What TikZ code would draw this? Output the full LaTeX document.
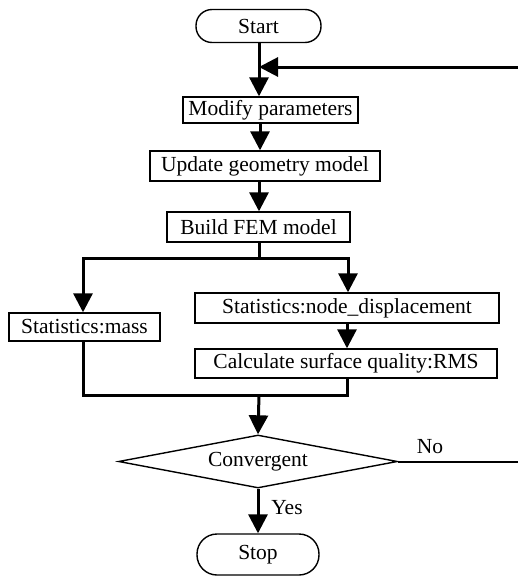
\documentclass[tikz,border=0pt]{standalone}
\usepackage{fontspec}
\setmainfont{Liberation Serif}
\usetikzlibrary{arrows.meta,shapes.geometric}
\begin{document}
\begin{tikzpicture}[x=1pt,y=-1pt,
  box/.style={draw,line width=1.4pt,inner sep=0pt,font=\fontsize{21.5}{23}\selectfont},
  term/.style={box,rounded corners=16pt},
  flow/.style={line width=3pt},
  arr/.style={flow,-{Triangle[length=19pt,width=19pt]}},
  lbl/.style={font=\fontsize{21.5}{23}\selectfont,inner sep=0pt}]
\useasboundingbox (0,0) rectangle (518,576);
\node[term,minimum width=125pt,minimum height=33pt] (start) at (258.5,26) {Start};
\node[box,minimum width=175pt,minimum height=26pt] (modify) at (270.5,110) {Modify parameters};
\node[box,minimum width=230pt,minimum height=30pt] (update) at (265,166) {Update geometry model};
\node[box,minimum width=183pt,minimum height=30pt] (fem) at (258.5,227) {Build FEM model};
\node[box,minimum width=151pt,minimum height=28pt] (mass) at (84.5,327) {Statistics:mass};
\node[box,minimum width=304pt,minimum height=30pt] (disp) at (347,308) {Statistics:node\_displacement};
\node[box,minimum width=302pt,minimum height=29pt] (calc) at (346,363.5) {Calculate surface quality:RMS};
\node[box,diamond,aspect=5.26,minimum width=279pt,minimum height=53pt] (conv) at (258,461.5) {Convergent};
\node[term,rounded corners=20pt,minimum width=122pt,minimum height=41pt] (stop) at (258,554.5) {Stop};
\coordinate (fbR) at (518,67);
\coordinate (noR) at (518,461.5);
\coordinate (split) at (259,258);
\coordinate (merge) at (259,395);
% main chain
\draw[arr] (start.south -| 259,0) -- (259,0 |- modify.north);
\draw[arr] (fbR) -- (259,67);
\draw[arr] (260,0 |- modify.south) -- (260,0 |- update.north);
\draw[arr] (259,0 |- update.south) -- (259,0 |- fem.north);
\draw[flow] (259,0 |- fem.south) -- (split);
\draw[arr] (split) -| (mass.north -| 83,0);
\draw[arr] (split) -| (disp.north -| 348,0);
\draw[arr] (347,0 |- disp.south) -- (347,0 |- calc.north);
\draw[flow] (mass.south -| 83,0) |- (merge) -| (calc.south -| 347,0);
\draw[arr] (merge) -- (conv.north);
\draw[arr] (conv.south) -- (stop.north);
\draw[line width=2pt] (conv.east) -- (noR);
\node[lbl] (no) at (430,447) {No};
\node[lbl] (yes) at (287,508) {Yes};
\end{tikzpicture}
\end{document}
